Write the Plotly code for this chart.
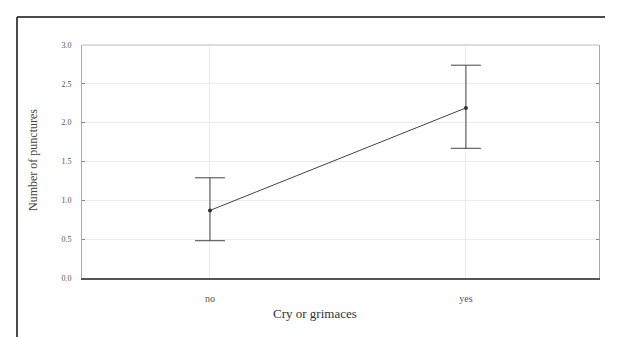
import plotly.graph_objects as go

# Mean number of punctures by cry/grimace response, with confidence limits
categories = ["no", "yes"]
means = [0.87, 2.19]
upper = [1.29, 2.74]
lower = [0.48, 1.67]

y_ticks = [0.0, 0.5, 1.0, 1.5, 2.0, 2.5, 3.0]

err_plus = [u - m for u, m in zip(upper, means)]
err_minus = [m - l for m, l in zip(means, lower)]

fig = go.Figure()
fig.add_trace(go.Scatter(
    x=[0, 1],
    y=means,
    mode="lines+markers",
    line=dict(color="#444444", width=1),
    marker=dict(color="#333333", size=4),
    error_y=dict(type="data", symmetric=False, array=err_plus, arrayminus=err_minus,
                 color="#444444", thickness=1, width=15),
    showlegend=False,
))

font = "Liberation Serif, Times New Roman, serif"

# plot area spans 82..599 px horizontally and 45..278 px vertically
def px_to_paper_x(px):
    return (px - 82) / 517

def px_to_paper_y(py):
    return (278 - py) / 233

fig.update_layout(
    width=617, height=337,
    margin=dict(l=82, r=18, t=45, b=59),
    paper_bgcolor="white", plot_bgcolor="white",
    font=dict(family=font, color="#333333"),
    xaxis=dict(
        range=[-0.5, 1.52],
        tickmode="array", tickvals=[0, 1], ticktext=categories,
        tickfont=dict(size=10, color="#555555"),
        ticklabelstandoff=10,
        showgrid=True, gridcolor="#ececec", gridwidth=1,
        zeroline=False, showline=True, linecolor="#555555", linewidth=2,
        mirror=False, ticks="",
    ),
    yaxis=dict(
        range=[0, 3.0],
        tickmode="array", tickvals=y_ticks, ticktext=[f"{v:.1f}" for v in y_ticks],
        tickfont=dict(size=8, color="#555555"),
        ticklabelstandoff=8,
        showgrid=True, gridcolor="#ececec", gridwidth=1,
        zeroline=False, showline=True, linecolor="#aaaaaa", linewidth=1,
        mirror="ticks", ticks="inside", ticklen=3, tickcolor="#888888",
    ),
    annotations=[
        dict(text="Cry or grimaces", xref="paper", yref="paper",
             x=px_to_paper_x(315), y=px_to_paper_y(313), xanchor="center", yanchor="middle",
             showarrow=False, font=dict(size=13, color="#333333")),
        dict(text="Number of punctures", xref="paper", yref="paper", textangle=-90,
             x=px_to_paper_x(33), y=px_to_paper_y(160), xanchor="center", yanchor="middle",
             showarrow=False, font=dict(size=12, color="#444444")),
    ],
    shapes=[
        # top border of plot frame
        dict(type="line", xref="paper", yref="paper", x0=0, x1=1, y0=1, y1=1,
             line=dict(color="#bbbbbb", width=1)),
        # outer frame edges
        dict(type="line", xref="paper", yref="paper", x0=px_to_paper_x(17), x1=px_to_paper_x(17),
             y0=px_to_paper_y(17), y1=px_to_paper_y(340), line=dict(color="#111111", width=1.5)),
        dict(type="line", xref="paper", yref="paper", x0=px_to_paper_x(17), x1=px_to_paper_x(605),
             y0=px_to_paper_y(17), y1=px_to_paper_y(17), line=dict(color="#111111", width=1.5)),
    ],
)

fig.write_html("out.html")
